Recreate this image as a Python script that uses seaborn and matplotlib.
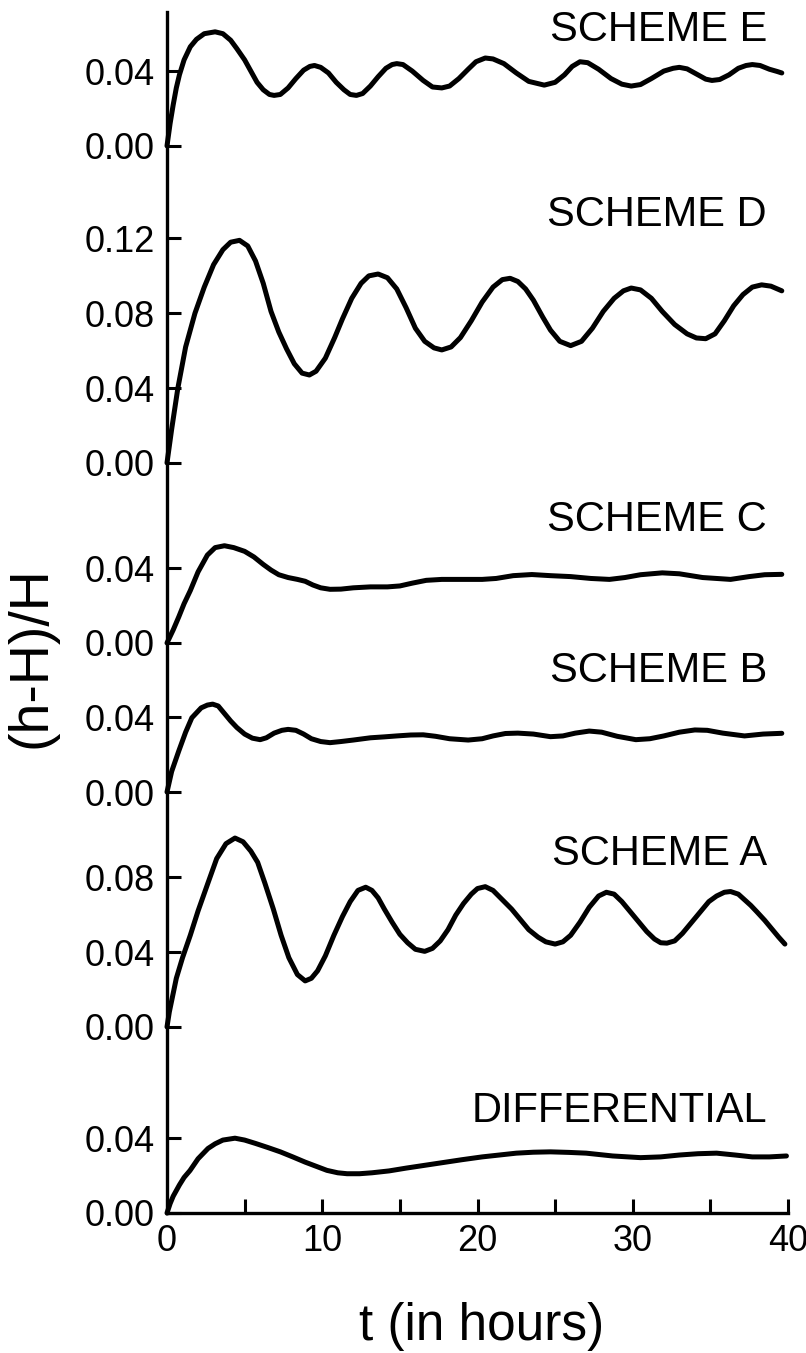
import numpy as np
import pandas as pd
import seaborn as sns
import matplotlib.pyplot as plt

t_e = [0, 0.2, 0.4, 0.6, 0.8, 1.1, 1.5, 1.9, 2.4, 3.1, 3.6, 4.1, 4.5, 5.0, 5.4, 5.8, 6.2, 6.6,
       6.9, 7.3, 7.8, 8.3, 8.8, 9.2, 9.5, 9.9, 10.4, 10.9, 11.4, 11.8, 12.2, 12.6, 13.1, 13.6,
       14.1, 14.5, 14.8, 15.2, 15.8, 16.5, 17.1, 17.7, 18.2, 18.8, 19.4, 19.9, 20.5, 21.0, 21.7,
       22.5, 23.3, 24.3, 25.0, 25.6, 26.1, 26.6, 27.1, 27.8, 28.6, 29.3, 29.9, 30.5, 31.2, 32.0,
       32.6, 33.0, 33.5, 34.2, 34.7, 35.1, 35.6, 36.2, 36.8, 37.3, 37.7, 38.2, 38.8, 39.3, 39.6]
v_e = [0, 0.012, 0.022, 0.031, 0.038, 0.046, 0.053, 0.057, 0.060, 0.061, 0.060, 0.0565, 0.052,
       0.046, 0.040, 0.034, 0.030, 0.0275, 0.027, 0.0275, 0.031, 0.036, 0.0405, 0.0425, 0.043,
       0.042, 0.039, 0.034, 0.030, 0.0275, 0.027, 0.028, 0.032, 0.037, 0.0415, 0.0435, 0.044,
       0.0435, 0.040, 0.035, 0.0315, 0.031, 0.032, 0.036, 0.041, 0.045, 0.047, 0.0465, 0.044,
       0.039, 0.0345, 0.0325, 0.034, 0.038, 0.0425, 0.045, 0.0445, 0.041, 0.036, 0.033, 0.032,
       0.0328, 0.036, 0.040, 0.0415, 0.042, 0.0412, 0.038, 0.0357, 0.035, 0.0355, 0.038, 0.0415,
       0.043, 0.0435, 0.043, 0.041, 0.0398, 0.039]

t_d = [0, 0.3, 0.7, 1.2, 1.8, 2.4, 3.0, 3.6, 4.1, 4.67, 5.2, 5.7, 6.2, 6.7, 7.2, 7.7, 8.2, 8.7,
       9.17, 9.6, 10.2, 10.8, 11.3, 11.9, 12.5, 13.0, 13.6, 14.2, 14.8, 15.4, 16.0, 16.6, 17.2,
       17.7, 18.3, 18.9, 19.6, 20.3, 21.0, 21.6, 22.1, 22.6, 23.1, 23.6, 24.2, 24.7, 25.3, 26.0,
       26.7, 27.4, 28.1, 28.8, 29.4, 29.9, 30.5, 31.2, 31.9, 32.7, 33.5, 34.1, 34.7, 35.3, 35.9,
       36.5, 37.1, 37.7, 38.3, 38.9, 39.6]
v_d = [0, 0.018, 0.040, 0.062, 0.080, 0.094, 0.106, 0.114, 0.118, 0.119, 0.116, 0.108, 0.096,
       0.081, 0.070, 0.061, 0.053, 0.048, 0.047, 0.049, 0.056, 0.067, 0.077, 0.088, 0.096, 0.100,
       0.101, 0.099, 0.093, 0.083, 0.072, 0.065, 0.0615, 0.0604, 0.062, 0.067, 0.076, 0.086,
       0.094, 0.098, 0.0987, 0.097, 0.093, 0.087, 0.078, 0.071, 0.065, 0.0627, 0.065, 0.072,
       0.081, 0.088, 0.092, 0.0935, 0.0925, 0.088, 0.081, 0.074, 0.069, 0.0668, 0.0664, 0.069,
       0.076, 0.084, 0.090, 0.094, 0.0952, 0.0945, 0.092]

t_c = [0, 0.4, 0.76, 1.1, 1.5, 2.0, 2.6, 3.1, 3.7, 4.3, 5.0, 5.6, 6.2, 6.7, 7.2, 7.8, 8.4, 8.9,
       9.4, 9.9, 10.5, 11.2, 12.0, 13.1, 14.2, 15.0, 15.8, 16.7, 17.7, 19.0, 20.3, 21.2, 22.3,
       23.5, 24.7, 26.0, 27.3, 28.5, 29.5, 30.5, 31.9, 33.0, 34.5, 36.3, 37.5, 38.5, 39.6]
v_c = [0, 0.007, 0.014, 0.021, 0.028, 0.038, 0.047, 0.051, 0.052, 0.051, 0.049, 0.046, 0.042,
       0.039, 0.0365, 0.035, 0.034, 0.033, 0.031, 0.0295, 0.0287, 0.0288, 0.0295, 0.030, 0.030,
       0.0305, 0.032, 0.0335, 0.034, 0.034, 0.034, 0.0345, 0.036, 0.0366, 0.036, 0.0355, 0.0345,
       0.034, 0.035, 0.0365, 0.0375, 0.037, 0.035, 0.034, 0.0355, 0.0365, 0.0367]

t_b = [0, 0.3, 0.76, 1.2, 1.6, 2.2, 2.6, 2.94, 3.3, 3.7, 4.1, 4.5, 5.0, 5.5, 6.0, 6.4, 6.9, 7.4,
       7.8, 8.3, 8.8, 9.3, 9.9, 10.5, 11.2, 12.0, 13.1, 14.0, 14.8, 15.7, 16.5, 17.3, 18.2, 19.4,
       20.3, 21.0, 21.8, 22.6, 23.6, 24.7, 25.5, 26.3, 27.2, 28.0, 29.0, 30.2, 31.1, 32.0, 33.0,
       34.0, 34.8, 35.8, 37.2, 38.4, 39.6]
v_b = [0, 0.011, 0.022, 0.032, 0.0397, 0.045, 0.0465, 0.047, 0.046, 0.042, 0.038, 0.0345, 0.031,
       0.0288, 0.028, 0.029, 0.0315, 0.033, 0.0335, 0.033, 0.031, 0.0285, 0.027, 0.0264, 0.027,
       0.0278, 0.029, 0.0295, 0.030, 0.0305, 0.0306, 0.0298, 0.0285, 0.0278, 0.0285, 0.030,
       0.0313, 0.0315, 0.031, 0.0296, 0.030, 0.0315, 0.0326, 0.032, 0.0298, 0.028, 0.0285, 0.030,
       0.032, 0.0332, 0.033, 0.0315, 0.030, 0.031, 0.0314]

t_a = [0, 0.15, 0.3, 0.6, 1.0, 1.5, 2.0, 2.64, 3.2, 3.8, 4.38, 4.9, 5.4, 5.84, 6.3, 6.85, 7.35,
       7.85, 8.4, 8.9, 9.3, 9.7, 10.2, 10.75, 11.3, 11.8, 12.3, 12.8, 13.2, 13.6, 14.0, 14.5,
       15.0, 15.5, 16.0, 16.6, 17.1, 17.6, 18.1, 18.6, 19.1, 19.6, 20.0, 20.5, 21.0, 21.6, 22.2,
       22.7, 23.3, 23.9, 24.4, 25.0, 25.5, 26.0, 26.6, 27.2, 27.8, 28.3, 28.8, 29.3, 29.9, 30.4,
       30.9, 31.4, 31.8, 32.2, 32.7, 33.2, 33.8, 34.4, 34.9, 35.4, 35.9, 36.3, 36.8, 37.2, 37.6,
       38.0, 38.5, 39.0, 39.4, 39.8]
v_a = [0, 0.008, 0.014, 0.026, 0.037, 0.049, 0.062, 0.077, 0.090, 0.098, 0.101, 0.099, 0.094,
       0.088, 0.077, 0.063, 0.049, 0.037, 0.028, 0.0246, 0.026, 0.030, 0.038, 0.049, 0.059, 0.067,
       0.073, 0.0747, 0.073, 0.069, 0.063, 0.056, 0.0495, 0.045, 0.0415, 0.0404, 0.042, 0.046,
       0.052, 0.0598, 0.066, 0.071, 0.074, 0.075, 0.073, 0.068, 0.063, 0.058, 0.052, 0.048,
       0.0455, 0.0443, 0.0455, 0.049, 0.056, 0.064, 0.070, 0.072, 0.071, 0.067, 0.061, 0.056,
       0.051, 0.047, 0.045, 0.0448, 0.046, 0.050, 0.056, 0.062, 0.067, 0.070, 0.072, 0.0724,
       0.071, 0.068, 0.065, 0.0615, 0.057, 0.052, 0.048, 0.0443]

t_diff = [0, 0.2, 0.4, 0.8, 1.1, 1.48, 2.0, 2.64, 3.1, 3.6, 4.38, 5.0, 5.7, 6.5, 7.3, 8.1, 8.9,
          9.6, 10.3, 11.0, 11.6, 12.4, 13.2, 14.3, 15.4, 16.6, 17.8, 19.0, 20.3, 21.4, 22.5, 23.6,
          24.7, 25.9, 27.0, 28.7, 30.5, 31.8, 33.0, 34.2, 35.4, 36.6, 37.7, 38.8, 39.9]
v_diff = [0, 0.005, 0.009, 0.015, 0.019, 0.0227, 0.029, 0.0345, 0.037, 0.039, 0.040, 0.039,
          0.0372, 0.035, 0.0327, 0.030, 0.0272, 0.025, 0.0228, 0.0215, 0.021, 0.021, 0.0215,
          0.0225, 0.024, 0.0255, 0.027, 0.0285, 0.030, 0.031, 0.032, 0.0325, 0.0327, 0.0324, 0.032,
          0.0305, 0.0296, 0.030, 0.031, 0.0317, 0.032, 0.031, 0.030, 0.030, 0.0305]

names = ['DIFFERENTIAL', 'SCHEME A', 'SCHEME B', 'SCHEME C', 'SCHEME D', 'SCHEME E']
times = [t_diff, t_a, t_b, t_c, t_d, t_e]
values = [v_diff, v_a, v_b, v_c, v_d, v_e]
yticks = [[0.00, 0.04], [0.00, 0.04, 0.08], [0.00, 0.04], [0.00, 0.04],
          [0.00, 0.04, 0.08, 0.12], [0.00, 0.04]]

# stacking: where each panel's zero sits, and where its name goes
base = [0.0, 0.0995, 0.2251, 0.3048, 0.4011, 0.5706]
name_y = [0.0545, 0.1920, 0.2898, 0.3706, 0.5337, 0.6326]

sns.set_style('ticks', {'axes.edgecolor': 'black', 'text.color': 'black',
                        'axes.labelcolor': 'black', 'xtick.color': 'black',
                        'ytick.color': 'black'})
plt.rcParams['font.family'] = ['Liberation Sans', 'DejaVu Sans']

fig = plt.figure(figsize=(8.06, 13.53), dpi=100)
ax = fig.add_axes([167 / 806, 140 / 1353, 621 / 806, 1201 / 1353])

for name, t, v, b, ny in zip(names, times, values, base, name_y):
    df = pd.DataFrame({'t': t, 'y': np.array(v) + b})
    sns.lineplot(data=df, x='t', y='y', color='black', linewidth=3.6,
                 estimator=None, sort=False, ax=ax, clip_on=False,
                 solid_joinstyle='round', solid_capstyle='round')
    ax.text(38.65, ny, name, ha='right', va='center', fontsize=30, color='black')

pos, lab = [], []
for b, ticks in zip(base, yticks):
    for v in ticks:
        pos.append(b + v)
        lab.append(f'{v:.2f}')

ax.set_xlim(0, 40)
ax.set_ylim(0, 0.6422)
ax.set_yticks(pos)
ax.set_yticklabels(lab)
ax.set_xticks([0, 10, 20, 30, 40])
ax.set_xticks([5, 15, 25, 35], minor=True)

for s in ['top', 'right']:
    ax.spines[s].set_visible(False)
for s in ['left', 'bottom']:
    ax.spines[s].set_linewidth(2.4)
ax.tick_params(which='both', direction='in', length=10, width=2.2, color='black')
ax.tick_params(axis='y', labelsize=26, pad=9)
ax.tick_params(axis='x', labelsize=26, pad=8)

ax.set_xlabel('t (in hours)', fontsize=37, va='center')
ax.xaxis.set_label_coords(0.507, -0.0949)
ax.set_ylabel('(h-H)/H', fontsize=40, va='center')
ax.yaxis.set_label_coords(-0.2174, 0.463)

plt.savefig('out.png', dpi=100)
